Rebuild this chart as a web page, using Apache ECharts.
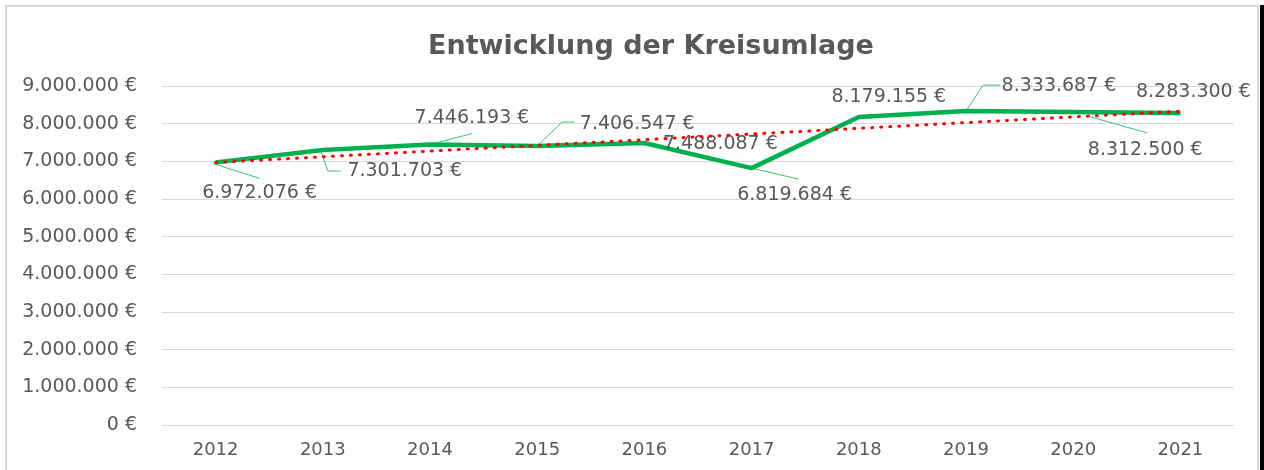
<!DOCTYPE html>
<html>
<head>
<meta charset="utf-8">
<script src="https://cdn.jsdelivr.net/npm/echarts@6/dist/echarts.min.js"></script>
<style>
  html, body { margin: 0; padding: 0; background: #fff; }
  #chartLine { width: 1264px; height: 470px; }
</style>
</head>
<body>
<div id="chartLine"></div>
<script>
  // data
  const years = ['2012', '2013', '2014', '2015', '2016', '2017', '2018', '2019', '2020', '2021']
  const kreisumlage = [6972076, 7301703, 7446193, 7406547, 7488087, 6819684, 8179155, 8333687, 8312500, 8283300]
  // linear trend line, start and end
  const trendEnds = [6970000, 8330000]
  const yTicks = { min: 0, max: 9000000, step: 1000000 }

  // label offsets from the point (centre of label) and leader lines, in pixels
  const labelPos = [
    { dx: 44, dy: 31, line: [[-3, 1], [44, 16]] },
    { dx: 82, dy: 21, line: [[-2, 1], [5, 21], [18, 21]] },
    { dx: 42, dy: -26, line: [[0, 0], [42, -11]] },
    { dx: 100, dy: -22, line: [[0, 0], [25, -24], [37, -24]] },
    { dx: 76, dy: 1, line: null },
    { dx: 43, dy: 27, line: [[0, 0], [47, 11]] },
    { dx: 30, dy: -20, line: null },
    { dx: 93, dy: -25, line: [[0, 0], [17, -26], [34, -26]] },
    { dx: 72, dy: 38, line: [[14, 4], [74, 21]] },
    { dx: 13, dy: -21, line: null }
  ]

  const euro = v => String(v).replace(/\B(?=(\d{3})+(?!\d))/g, '.') + ' €'
  const font = 'DejaVu Sans'
  const textColor = '#595959'

  const trendData = years.map((y, i) => i === 0 ? trendEnds[0] : (i === years.length - 1 ? trendEnds[1] : null))

  const myChart = echarts.init(document.getElementById('chartLine'))
  const option = {
    backgroundColor: '#fff',
    animation: false,
    title: {
      text: 'Entwicklung der Kreisumlage',
      left: 423,
      top: 28,
      textStyle: {
        fontFamily: font,
        fontSize: 27,
        fontWeight: 'bold',
        color: textColor
      }
    },
    graphic: [
      {
        type: 'rect',
        shape: { x: 6, y: 6, width: 1252, height: 480 },
        style: { fill: 'none', stroke: '#d9d9d9', lineWidth: 2 },
        silent: true
      },
      {
        type: 'rect',
        shape: { x: 1260, y: 5, width: 4, height: 470 },
        style: { fill: '#000' },
        silent: true
      }
    ],
    grid: {
      left: 162,
      right: 30,
      top: 86,
      bottom: 45
    },
    xAxis: {
      type: 'category',
      data: years,
      boundaryGap: true,
      axisLine: { show: true, lineStyle: { color: '#d9d9d9', width: 1 } },
      axisTick: { show: false },
      axisLabel: {
        margin: 16,
        fontFamily: font,
        fontSize: 18,
        color: textColor
      }
    },
    yAxis: {
      type: 'value',
      min: yTicks.min,
      max: yTicks.max,
      interval: yTicks.step,
      axisLine: { show: false },
      axisTick: { show: false },
      splitLine: { lineStyle: { color: '#d9d9d9', width: 1 } },
      axisLabel: {
        margin: 25,
        fontFamily: font,
        fontSize: 19,
        color: textColor,
        formatter: euro
      }
    },
    series: [
      {
        name: 'Kreisumlage',
        type: 'line',
        data: kreisumlage,
        symbol: 'circle',
        symbolSize: 1,
        showSymbol: true,
        itemStyle: { color: '#00B050' },
        lineStyle: { color: '#00B050', width: 4.5 },
        z: 2,
        label: {
          show: true,
          fontFamily: font,
          fontSize: 19,
          color: textColor,
          formatter: p => euro(p.value)
        },
        labelLayout: function (params) {
          const pos = labelPos[params.dataIndex]
          const cx = params.rect.x + params.rect.width / 2
          const cy = params.rect.y + params.rect.height / 2
          return {
            x: cx + pos.dx,
            y: cy + pos.dy,
            align: 'center',
            verticalAlign: 'middle'
          }
        }
      },
      {
        // leader lines from each point to its label
        name: 'Leader',
        type: 'custom',
        data: kreisumlage.map((v, i) => [i, v]),
        z: 1,
        silent: true,
        renderItem: function (params, api) {
          const pos = labelPos[params.dataIndex]
          if (!pos.line) return null
          const pt = api.coord([api.value(0), api.value(1)])
          return {
            type: 'polyline',
            shape: { points: pos.line.map(p => [pt[0] + p[0], pt[1] + p[1]]) },
            style: { stroke: '#3cc27a', lineWidth: 1, fill: null }
          }
        }
      },
      {
        name: 'Trend',
        type: 'line',
        data: trendData,
        connectNulls: true,
        symbol: 'none',
        z: 3,
        lineStyle: {
          color: '#FF0000',
          width: 3,
          type: [1, 8],
          cap: 'round'
        }
      }
    ]
  }
  myChart.setOption(option)
</script>
</body>
</html>
